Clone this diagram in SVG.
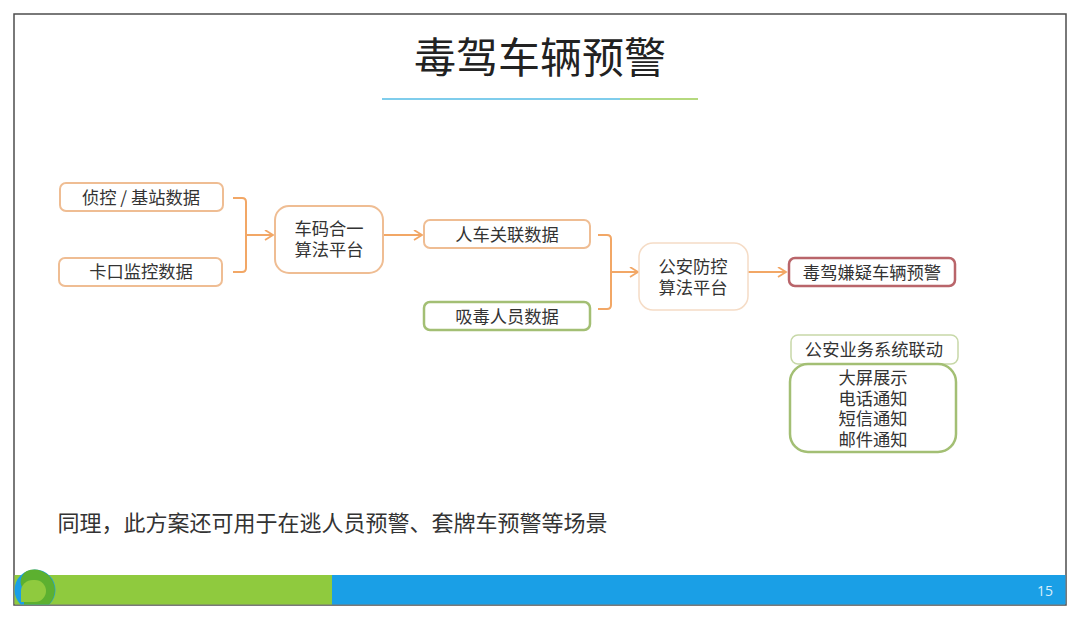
<svg xmlns="http://www.w3.org/2000/svg" width="1080" height="619" viewBox="0 0 1080 619">
<style>
text{font-family:"Noto Sans CJK SC","Noto Sans",sans-serif;fill:#333;text-anchor:middle;font-size:17.3px}
.o{fill:#fff;stroke:#efbd93;stroke-width:2}
.l{fill:#fff;stroke:#f5dcc6;stroke-width:1.5}
.g{fill:#fff;stroke:#a3bf74;stroke-width:2.5}
.c{fill:none;stroke:#f2a766;stroke-width:2}
</style>
<defs>
<marker id="a" markerWidth="12" markerHeight="12" refX="9" refY="5" orient="auto" markerUnits="userSpaceOnUse"><path d="M1 0L9 5L1 10" fill="none" stroke="#f2a766" stroke-width="1.8"/></marker>
<clipPath id="f"><rect x="14" y="565" width="60" height="39.500"/></clipPath>
</defs>
<rect width="1080" height="619" fill="#fff"/>
<rect x="14" y="14" width="1052" height="591" fill="#fff" stroke="#4d4d4d" stroke-width="1.500"/>
<g id="title"><text x="540" y="73" style="font-size:42px;fill:#222">毒驾车辆预警</text>
<rect x="382" y="98" width="238" height="2" fill="#7fcdec"/><rect x="620" y="98" width="78" height="2" fill="#b5d97e"/></g>
<g id="footer"><rect x="14.500" y="575" width="317.500" height="29.500" fill="#8fca3e"/><rect x="332" y="575" width="733.500" height="29.500" fill="#1a9fe6"/>
<g clip-path="url(#f)"><circle cx="35" cy="590" r="20.500" fill="#1a9fe6"/>
<path d="M27 571A20.500 20.500 0 0 1 46 607L24 607L24 590A12 12 0 0 1 27 571Z" fill="#5cb030"/>
<path d="M21 602V591A12 11 0 0 1 33 580H35A11 11 0 0 1 46 591A11 11 0 0 1 35 602Z" fill="#8fca3e"/></g>
<text x="1045" y="596" style="font-family:'Open Sans',sans-serif;font-size:14px;fill:#d8eefa">15</text></g>
<g id="connectors">
<path class="c" d="M233 198H242Q246 198 246 202V268Q246 272 242 272H233"/><path class="c" d="M246 235H273" marker-end="url(#a)"/>
<path class="c" d="M384 235H422" marker-end="url(#a)"/>
<path class="c" d="M598 235H607Q611 235 611 239V305Q611 309 607 309H598"/><path class="c" d="M611 272H638" marker-end="url(#a)"/>
<path class="c" d="M748 272H786" marker-end="url(#a)"/>
</g>
<g id="n1"><rect class="o" x="60" y="183" width="163" height="28" rx="6"/><text x="141" y="204">侦控 / 基站数据</text></g>
<g id="n2"><rect class="o" x="59" y="258" width="163" height="28" rx="6"/><text x="141" y="278">卡口监控数据</text></g>
<g id="n3"><rect class="o" x="275" y="206" width="108" height="67" rx="14"/><text x="329" y="235">车码合一<tspan x="329" dy="21">算法平台</tspan></text></g>
<g id="n4"><rect class="o" x="424" y="220" width="166" height="28" rx="6"/><text x="507" y="241">人车关联数据</text></g>
<g id="n5"><rect class="g" x="424" y="302" width="166" height="28" rx="6"/><text x="507" y="323">吸毒人员数据</text></g>
<g id="n6"><rect class="l" x="639" y="243" width="109" height="67" rx="14"/><text x="693" y="273">公安防控<tspan x="693" dy="21">算法平台</tspan></text></g>
<g id="n7"><rect fill="#fff" stroke="#b9656a" stroke-width="2.500" x="789" y="258" width="166" height="28" rx="6"/><text x="872" y="279">毒驾嫌疑车辆预警</text></g>
<g id="n8"><rect fill="#fff" stroke="#c7d8a8" stroke-width="1.500" x="791" y="335" width="167" height="29" rx="7"/><text x="874" y="356">公安业务系统联动</text></g>
<g id="n9"><rect class="g" x="790" y="364" width="166" height="88" rx="18"/><text x="873" y="384">大屏展示<tspan x="873" dy="20.700">电话通知</tspan><tspan x="873" dy="20.700">短信通知</tspan><tspan x="873" dy="20.700">邮件通知</tspan></text></g>
<text x="332.500" y="531" style="font-size:22px">同理，此方案还可用于在逃人员预警、套牌车预警等场景</text>
</svg>
